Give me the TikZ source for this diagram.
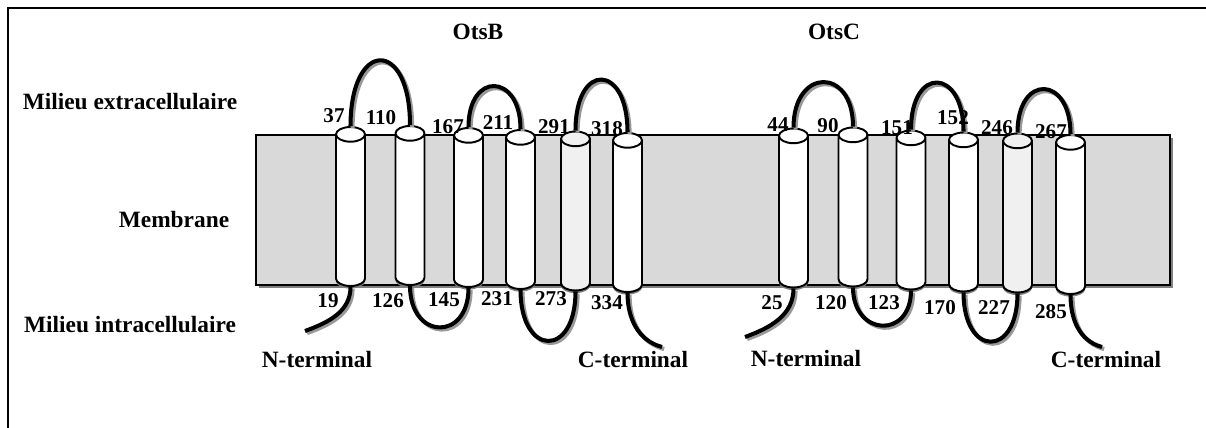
\documentclass[tikz,border=0pt]{standalone}
\usepackage{fontspec}
\setmainfont{Liberation Serif}
\usetikzlibrary{shapes.geometric}

\begin{document}
\begin{tikzpicture}[x=0.02cm,y=0.02cm,
tm/.style={cylinder,shape border rotate=90,draw,line width=1.1pt,aspect=0.55,minimum width=0.58cm,minimum height=3.18cm,inner sep=7.6pt,anchor=shape center,fill=white,preaction={fill=gray,transform canvas={yshift=-1.5pt}}},
tmlight/.style={tm,fill=black!6},
strand/.style={line width=2.3pt,preaction={draw=gray!80,line width=2.3pt,transform canvas={shift={(1.2pt,-1.2pt)}}}},
lbl/.style={font=\fontsize{13.3}{15}\selectfont\bfseries},
num/.style={font=\fontsize{12}{14}\selectfont\bfseries,inner sep=0pt}]
\useasboundingbox (0,0) rectangle (1206,-428);
\draw[line width=0.8pt] (8,-428) -- (8,-8) -- (1206,-8);

% membrane
\node[draw,line width=1pt,fill=black!15,minimum width=18.28cm,minimum height=3cm,inner sep=0pt,
  preaction={fill=gray,transform canvas={shift={(1.5pt,-1.7pt)}}}] (mem) at (713,-210) {};

% helices
\node[tm] (b1) at (350.5,-206.5) {};
\node[tm] (b2) at (410,-205.5) {};
\node[tm] (b3) at (468.5,-207.5) {};
\node[tm] (b4) at (520.5,-209.5) {};
\node[tmlight] (b5) at (575.5,-211) {};
\node[tm] (b6) at (627.5,-212.5) {};
\node[tm] (c1) at (793.5,-208) {};
\node[tm] (c2) at (853,-207) {};
\node[tm] (c3) at (911,-210) {};
\node[tm] (c4) at (963.5,-212) {};
\node[tmlight] (c5) at (1017.5,-213) {};
\node[tm] (c6) at (1070.5,-214.5) {};

\coordinate (bN) at (305,-331);
\coordinate (bC) at (662,-347);
\coordinate (cN) at (745,-337);
\coordinate (cC) at (1102,-347);

% loops
\draw[strand] (b1.north) .. controls +(0,87) and +(0,87) .. (b2.north);
\draw[strand] (b3.north) .. controls +(0,56) and +(0,56) .. (b4.north);
\draw[strand] (b5.north) .. controls +(0,69) and +(0,69) .. (b6.north);
\draw[strand] (b2.south) .. controls +(0,-54) and +(0,-54) .. (b3.south);
\draw[strand] (b4.south) .. controls +(0,-67) and +(0,-67) .. (b5.south);
\draw[strand] (b1.south) to[out=-90,in=20] (bN);
\draw[strand] (b6.south) to[out=-90,in=165] (bC);
\draw[strand] (c1.north) .. controls +(0,60) and +(0,60) .. (c2.north);
\draw[strand] (c3.north) .. controls +(0,64) and +(0,64) .. (c4.north);
\draw[strand] (c5.north) .. controls +(0,59) and +(0,59) .. (c6.north);
\draw[strand] (c2.south) .. controls +(0,-49) and +(0,-49) .. (c3.south);
\draw[strand] (c4.south) .. controls +(0,-65) and +(0,-65) .. (c5.south);
\draw[strand] (c1.south) to[out=-90,in=20] (cN);
\draw[strand] (c6.south) to[out=-90,in=165] (cC);

% labels
\node[lbl] (otsb) at (478,-32) {OtsB};
\node[lbl] (otsc) at (834,-32) {OtsC};
\node[lbl] (extra) at (130,-102) {Milieu extracellulaire};
\node[lbl] (membr) at (174,-220) {Membrane};
\node[lbl] (intra) at (130,-325) {Milieu intracellulaire};
\node[lbl] (bNt) at (317,-360) {N-terminal};
\node[lbl] (bCt) at (633,-360) {C-terminal};
\node[lbl] (cNt) at (806,-359) {N-terminal};
\node[lbl] (cCt) at (1106,-360) {C-terminal};

% residue numbers
\node[num] (n37) at (334,-116) {37};
\node[num] (n110) at (381,-118) {110};
\node[num] (n167) at (448,-127) {167};
\node[num] (n211) at (498,-123) {211};
\node[num] (n291) at (554,-127) {291};
\node[num] (n318) at (607,-129) {318};
\node[num] (n19) at (328,-301) {19};
\node[num] (n126) at (388,-301) {126};
\node[num] (n145) at (444,-300) {145};
\node[num] (n231) at (497,-299) {231};
\node[num] (n273) at (551,-299) {273};
\node[num] (n334) at (607,-303) {334};
\node[num] (n44) at (778,-125) {44};
\node[num] (n90) at (828,-126) {90};
\node[num] (n151) at (897,-128) {151};
\node[num] (n152) at (953,-118) {152};
\node[num] (n246) at (997,-128) {246};
\node[num] (n267) at (1051,-132) {267};
\node[num] (n25) at (772,-303) {25};
\node[num] (n120) at (831,-303) {120};
\node[num] (n123) at (884,-303) {123};
\node[num] (n170) at (940,-308) {170};
\node[num] (n227) at (994,-308) {227};
\node[num] (n285) at (1051,-312) {285};
\end{tikzpicture}
\end{document}
